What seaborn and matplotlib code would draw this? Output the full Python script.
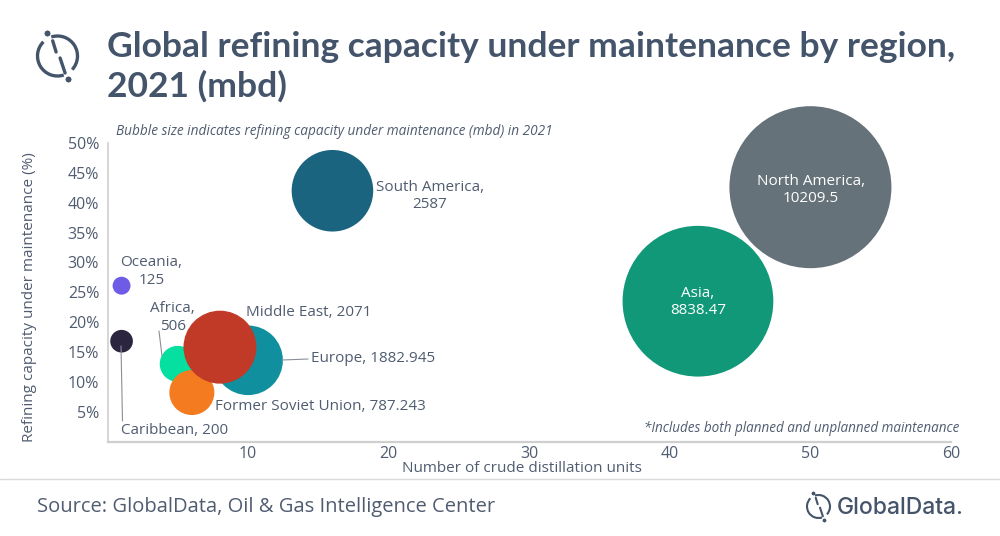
import matplotlib
matplotlib.use('Agg')
import matplotlib.pyplot as plt
import seaborn as sns
import pandas as pd
from matplotlib.patches import Arc

# ---------- data ----------
regions = ['North America', 'Asia', 'South America', 'Europe', 'Africa',
           'Former Soviet Union', 'Middle East', 'Oceania', 'Caribbean']
units = [50, 42, 16, 10, 5, 6, 8, 1, 1]
share = [42.6, 23.5, 42.0, 13.6, 13.0, 8.2, 15.8, 26.1, 16.8]
capacity = [10209.5, 8838.47, 2587, 1882.945, 506, 787.243, 2071, 125, 200]
bubble_colors = ['#66727A', '#109878', '#1B6480', '#10909F', '#05DFA0',
                 '#F47B20', '#C03A27', '#6E5CE6', '#2B2540']
x_ticks = [10, 20, 30, 40, 50, 60]
y_ticks = [5, 10, 15, 20, 25, 30, 35, 40, 45, 50]

df = pd.DataFrame({'region': regions, 'units': units, 'share': share, 'capacity': capacity})

INK = '#44546A'
TXT = '#505C70'
GRID = '#CFCFCF'

sns.set_theme(style='white')
plt.rcParams['font.family'] = ['Open Sans', 'DejaVu Sans']

W, H = 1000, 536
fig = plt.figure(figsize=(W / 100, H / 100), dpi=100, facecolor='white')
ax = fig.add_axes([107.5 / W, 1 - 441.5 / H, (951 - 107.5) / W, (441.5 - 143) / H])

# biggest bubble is 162 px across, area follows capacity
max_s = (162 * 0.72) ** 2
sns.scatterplot(data=df, x='units', y='share', hue='region', palette=bubble_colors,
                size='capacity', sizes=(0, max_s), size_norm=(0, 10209.5),
                linewidth=0, alpha=1, legend=False, clip_on=False, ax=ax, zorder=3)

ax.set_xlim(0, 60)
ax.set_ylim(0, 50)
ax.set_xticks(x_ticks)
ax.set_yticks(y_ticks)
ax.set_yticklabels([f'{v}%' for v in y_ticks])
ax.set_xticks([0], minor=True)
ax.set_yticks([0], minor=True)
ax.tick_params(axis='x', which='both', length=3, width=1, color=GRID, labelsize=11.5, labelcolor=TXT, pad=0)
ax.tick_params(axis='y', which='both', length=5, width=1, color=GRID, labelsize=11.5, labelcolor=TXT, pad=1)
for side in ['top', 'right']:
    ax.spines[side].set_visible(False)
ax.spines['left'].set_color(GRID)
ax.spines['left'].set_linewidth(1.2)
ax.spines['bottom'].set_color(GRID)
ax.spines['bottom'].set_linewidth(1.6)
ax.set_xlabel('')
ax.set_ylabel('')
ax.patch.set_alpha(0)


def px(x, y, text, **kw):
    kw.setdefault('color', TXT)
    kw.setdefault('fontsize', 11)
    kw.setdefault('ha', 'center')
    kw.setdefault('va', 'center')
    return fig.text(x / W, 1 - y / H, text, **kw)


def seg(x0, y0, x1, y1, color='#8A8F98', lw=0.8, z=4, **kw):
    fig.add_artist(plt.Line2D([x0 / W, x1 / W], [1 - y0 / H, 1 - y1 / H], color=color, lw=lw, zorder=z, **kw))


# axis titles
px(522, 469, 'Number of crude distillation units', fontsize=11)
px(30, 297, 'Refining capacity under maintenance (%)', fontsize=11, rotation=90)

# bubble labels
label_spots = [
    (811, 190, 'North America,\n10209.5', 'white', 'center'),
    (698, 302, 'Asia,\n8838.47', 'white', 'center'),
    (376, 196, 'South America,\n2587', TXT, 'left'),
    (120, 262, 'Oceania,', TXT, 'left'),
    (139, 281, '125', TXT, 'left'),
    (150, 309, 'Africa,', TXT, 'left'),
    (160, 327, '506', TXT, 'left'),
    (246, 312, 'Middle East, 2071', TXT, 'left'),
    (311, 358, 'Europe, 1882.945', TXT, 'left'),
    (215, 407, 'Former Soviet Union, 787.243', TXT, 'left'),
    (121, 431, 'Caribbean, 200', TXT, 'left'),
]
for x, y, label, col, ha in label_spots:
    px(x, y, label, color=col, ha=ha, fontsize=11, linespacing=1.2,
       multialignment='center', zorder=6)

# leader lines
seg(282, 360, 308, 359)
seg(121, 346, 122.5, 421)
seg(159, 331, 162, 356)

# header
px(107, 57, 'Global refining capacity under maintenance by region,', color=INK, ha='left',
   va='baseline', fontsize=25.5, fontweight='bold', family=['Lato', 'DejaVu Sans'])
px(107, 97, '2021 (mbd)', color=INK, ha='left', va='baseline', fontsize=25.5, fontweight='bold',
   family=['Lato', 'DejaVu Sans'])
px(116, 132, 'Bubble size indicates refining capacity under maintenance (mbd) in 2021',
   ha='left', fontsize=9.85, style='italic')
px(959, 428, '*Includes both planned and unplanned maintenance', ha='right', fontsize=9.75, style='italic')

# footer
seg(0, 479, 1000, 479, color='#DADADA', lw=1)
px(37, 507, 'Source: GlobalData, Oil & Gas Intelligence Center', ha='left', fontsize=14.5)
px(837, 508, 'GlobalData.', color=INK, ha='left', fontsize=16.5, fontweight='medium',
   family=['Inter', 'DejaVu Sans'])


def logo(cx, cy, r, lw):
    for a0, a1 in [(-60, 100), (118, 280)]:
        fig.add_artist(Arc((cx / W, 1 - cy / H), 2 * r / W, 2 * r / H, theta1=a0, theta2=a1,
                           color=INK, lw=lw, transform=fig.transFigure))
    seg(cx - 0.24 * r, cy - 0.76 * r, cx - 0.07 * r, cy - 0.2 * r, color=INK, lw=lw, solid_capstyle='round')
    seg(cx + 0.13 * r, cy + 0.1 * r, cx + 0.38 * r, cy + 0.85 * r, color=INK, lw=lw, solid_capstyle='round')
    seg(cx - 0.52 * r, cy - 1.15 * r, cx - 0.52 * r, cy - 1.15 * r, color=INK, lw=0,
        marker='o', markersize=lw * 1.7, markeredgewidth=0)
    seg(cx + 0.52 * r, cy + 1.15 * r, cx + 0.52 * r, cy + 1.15 * r, color=INK, lw=0,
        marker='o', markersize=lw * 1.7, markeredgewidth=0)


logo(57.5, 56, 20, 2.4)
logo(818.5, 506.5, 11.5, 1.5)

fig.savefig('out.png', dpi=100)
